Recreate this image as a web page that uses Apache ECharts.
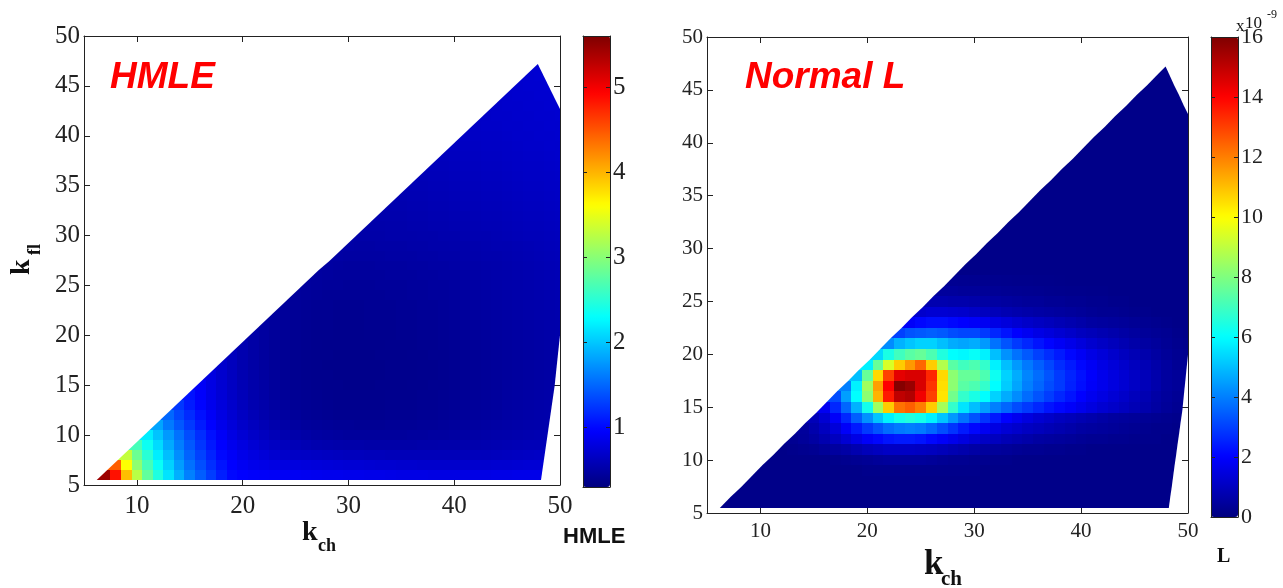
<!DOCTYPE html>
<html>
<head>
<meta charset="utf-8">
<title>HMLE and Normal L over k_ch, k_fl</title>
<script src="https://cdn.jsdelivr.net/npm/echarts@6.0.0/dist/echarts.min.js"></script>
<style>
  html, body { margin: 0; padding: 0; background: #fff; }
  #main { width: 1283px; height: 588px; }
</style>
</head>
<body>
<div id="main"></div>
<script>
// rows go up in k_fl, starting at kflFirst; a row starts at k_ch = k_fl + 1
const kflFirst = 6;
const kchTicks = [10, 20, 30, 40, 50];
const hmleTicks = [1, 2, 3, 4, 5];
const lTicks = [0, 2, 4, 6, 8, 10, 12, 14, 16];
const hmleRange = [0.3, 5.6];
const lRange = [0, 16];

const domainEdges = [
  [-1, 1, -0.7],      // diagonal k_fl = k_ch - 0.7
  [1, 0.465, 69.85],  // slope down from the apex at (47.9, 47.2)
  [1, -0.1, 48.0],    // right side, k_fl 15..20
  [1, -0.137, 47.45], // right side, k_fl 5.5..15
  [0, -1, -5.5]       // bottom at k_fl = 5.5
];

// HMLE
const hmleRows = [
  [5.45,4.85,3.95,3.25,2.8,2.45,2.15,1.88,1.63,1.45,1.28,1.12,1.0,0.96,0.94,0.93,0.92,0.91,0.9,0.89,0.88,0.87,0.87,0.86,0.86,0.85,0.85,0.84,0.83,0.83,0.83,0.82,0.82,0.82,0.82,0.83,0.83,0.84,0.84,0.85,0.85,0.85],
  [4.45,3.6,3.03,2.65,2.33,2.05,1.78,1.55,1.37,1.2,1.06,0.96,0.9,0.86,0.84,0.82,0.8,0.79,0.78,0.77,0.76,0.75,0.74,0.74,0.73,0.72,0.72,0.71,0.71,0.7,0.7,0.7,0.7,0.7,0.71,0.71,0.72,0.72,0.73,0.74,0.74],
  [3.3,2.85,2.5,2.2,1.95,1.7,1.48,1.3,1.14,1.0,0.92,0.85,0.8,0.76,0.72,0.69,0.67,0.66,0.65,0.64,0.63,0.62,0.62,0.61,0.61,0.6,0.6,0.6,0.6,0.6,0.6,0.6,0.6,0.61,0.61,0.62,0.63,0.64,0.65,0.66],
  [2.65,2.35,2.1,1.85,1.62,1.42,1.24,1.08,0.96,0.87,0.8,0.74,0.69,0.65,0.62,0.59,0.57,0.55,0.54,0.53,0.52,0.52,0.51,0.51,0.51,0.51,0.51,0.52,0.52,0.53,0.53,0.54,0.54,0.55,0.56,0.57,0.58,0.59,0.59],
  [2.2,1.98,1.76,1.55,1.36,1.19,1.04,0.92,0.82,0.74,0.68,0.63,0.59,0.55,0.52,0.5,0.48,0.47,0.46,0.45,0.45,0.45,0.45,0.45,0.45,0.46,0.46,0.47,0.47,0.48,0.49,0.5,0.51,0.52,0.53,0.54,0.55,0.56,0.57],
  [1.82,1.6,1.42,1.26,1.1,0.97,0.86,0.77,0.69,0.63,0.58,0.54,0.5,0.47,0.45,0.44,0.43,0.42,0.42,0.41,0.41,0.41,0.42,0.42,0.42,0.43,0.43,0.44,0.45,0.46,0.47,0.48,0.49,0.5,0.51,0.52,0.53,0.54],
  [1.5,1.33,1.18,1.04,0.92,0.82,0.73,0.65,0.59,0.54,0.5,0.47,0.44,0.42,0.41,0.4,0.39,0.39,0.39,0.39,0.39,0.4,0.4,0.4,0.41,0.41,0.42,0.43,0.44,0.45,0.46,0.47,0.49,0.5,0.51,0.52,0.53],
  [1.25,1.1,0.98,0.87,0.78,0.7,0.62,0.56,0.52,0.48,0.45,0.42,0.41,0.4,0.39,0.38,0.38,0.38,0.38,0.38,0.39,0.39,0.39,0.4,0.4,0.41,0.42,0.43,0.44,0.45,0.46,0.48,0.49,0.5,0.51,0.52],
  [1.05,0.94,0.84,0.75,0.67,0.6,0.54,0.5,0.46,0.43,0.41,0.4,0.39,0.38,0.37,0.37,0.37,0.37,0.37,0.38,0.38,0.38,0.39,0.39,0.4,0.41,0.42,0.43,0.44,0.45,0.47,0.48,0.49,0.5,0.51],
  [0.92,0.82,0.73,0.65,0.58,0.53,0.49,0.45,0.42,0.4,0.39,0.38,0.37,0.37,0.36,0.36,0.36,0.37,0.37,0.37,0.38,0.38,0.39,0.39,0.4,0.41,0.42,0.43,0.44,0.46,0.47,0.48,0.49,0.5],
  [0.8,0.71,0.63,0.56,0.51,0.47,0.44,0.41,0.39,0.38,0.37,0.37,0.36,0.36,0.36,0.36,0.36,0.37,0.37,0.37,0.38,0.38,0.39,0.4,0.41,0.42,0.43,0.44,0.45,0.46,0.47,0.48,0.49],
  [0.7,0.62,0.55,0.5,0.46,0.43,0.41,0.39,0.38,0.37,0.36,0.36,0.36,0.36,0.36,0.36,0.37,0.37,0.37,0.38,0.38,0.39,0.4,0.41,0.42,0.43,0.44,0.45,0.46,0.47,0.48,0.49],
  [0.62,0.55,0.5,0.46,0.43,0.41,0.39,0.38,0.37,0.37,0.36,0.36,0.36,0.36,0.37,0.37,0.37,0.38,0.38,0.39,0.39,0.4,0.41,0.42,0.43,0.44,0.45,0.46,0.47,0.48,0.49],
  [0.56,0.5,0.46,0.43,0.41,0.4,0.39,0.38,0.37,0.37,0.37,0.37,0.37,0.37,0.38,0.38,0.38,0.39,0.39,0.4,0.41,0.42,0.43,0.44,0.45,0.46,0.47,0.48,0.49,0.5],
  [0.51,0.47,0.44,0.42,0.4,0.39,0.38,0.38,0.37,0.37,0.37,0.38,0.38,0.38,0.39,0.39,0.4,0.4,0.41,0.42,0.43,0.44,0.45,0.46,0.47,0.48,0.49,0.5,0.51,0.52],
  [0.48,0.45,0.43,0.41,0.4,0.39,0.39,0.38,0.38,0.38,0.39,0.39,0.39,0.4,0.4,0.41,0.41,0.42,0.43,0.44,0.45,0.46,0.47,0.48,0.49,0.5,0.51,0.52,0.53],
  [0.46,0.44,0.42,0.41,0.4,0.4,0.39,0.39,0.39,0.4,0.4,0.4,0.41,0.41,0.42,0.42,0.43,0.44,0.45,0.46,0.47,0.48,0.49,0.5,0.51,0.52,0.53,0.54],
  [0.45,0.43,0.42,0.41,0.41,0.4,0.4,0.4,0.41,0.41,0.41,0.42,0.42,0.43,0.43,0.44,0.45,0.46,0.47,0.48,0.49,0.5,0.51,0.52,0.53,0.54,0.55],
  [0.45,0.44,0.43,0.42,0.42,0.42,0.42,0.42,0.42,0.43,0.43,0.44,0.44,0.45,0.45,0.46,0.47,0.48,0.49,0.5,0.51,0.52,0.53,0.54,0.55,0.56],
  [0.46,0.45,0.44,0.44,0.43,0.43,0.43,0.44,0.44,0.44,0.45,0.45,0.46,0.46,0.47,0.48,0.49,0.5,0.51,0.52,0.53,0.54,0.55,0.56,0.57],
  [0.47,0.46,0.45,0.45,0.45,0.45,0.45,0.46,0.46,0.46,0.47,0.47,0.48,0.48,0.49,0.5,0.51,0.52,0.53,0.54,0.55,0.56,0.57,0.58],
  [0.48,0.47,0.46,0.46,0.46,0.47,0.47,0.47,0.48,0.48,0.49,0.49,0.5,0.51,0.51,0.52,0.53,0.54,0.55,0.56,0.57,0.58,0.59],
  [0.49,0.48,0.48,0.48,0.48,0.49,0.49,0.49,0.5,0.5,0.51,0.51,0.52,0.53,0.54,0.54,0.55,0.56,0.57,0.58,0.59,0.6],
  [0.5,0.49,0.49,0.5,0.5,0.5,0.51,0.51,0.52,0.52,0.53,0.53,0.54,0.55,0.56,0.56,0.57,0.58,0.59,0.6,0.61],
  [0.51,0.51,0.51,0.52,0.52,0.52,0.53,0.53,0.54,0.54,0.55,0.56,0.56,0.57,0.58,0.59,0.6,0.6,0.61,0.62],
  [0.52,0.52,0.53,0.53,0.54,0.54,0.55,0.55,0.56,0.56,0.57,0.58,0.58,0.59,0.6,0.61,0.61,0.62,0.63],
  [0.54,0.54,0.54,0.55,0.55,0.56,0.56,0.57,0.57,0.58,0.59,0.59,0.6,0.61,0.62,0.62,0.63,0.64],
  [0.55,0.55,0.56,0.56,0.57,0.57,0.58,0.59,0.59,0.6,0.6,0.61,0.62,0.63,0.63,0.64,0.65],
  [0.56,0.57,0.57,0.58,0.58,0.59,0.6,0.6,0.61,0.61,0.62,0.63,0.64,0.64,0.65,0.66],
  [0.58,0.58,0.59,0.59,0.6,0.61,0.61,0.62,0.62,0.63,0.64,0.65,0.65,0.66,0.67],
  [0.59,0.6,0.6,0.61,0.62,0.62,0.63,0.63,0.64,0.65,0.66,0.66,0.67,0.68],
  [0.61,0.61,0.62,0.63,0.63,0.64,0.64,0.65,0.66,0.67,0.67,0.68,0.69],
  [0.62,0.63,0.64,0.64,0.65,0.65,0.66,0.67,0.68,0.68,0.69,0.7],
  [0.64,0.65,0.65,0.66,0.66,0.67,0.68,0.69,0.69,0.7,0.7],
  [0.66,0.66,0.67,0.67,0.68,0.69,0.69,0.7,0.7,0.71],
  [0.67,0.68,0.68,0.69,0.69,0.7,0.7,0.71,0.71],
  [0.68,0.69,0.69,0.7,0.7,0.71,0.71,0.72],
  [0.69,0.7,0.7,0.71,0.71,0.72,0.72],
  [0.7,0.71,0.71,0.72,0.72],
  [0.71,0.72,0.72,0.73],
  [0.72,0.73],
  [0.73]
];

// Normal L (x 10^-9)
const normalRows = [
  [0.15,0.15,0.15,0.15,0.15,0.15,0.15,0.15,0.15,0.15,0.15,0.15,0.15,0.15,0.15,0.15,0.15,0.15,0.15,0.15,0.15,0.15,0.15,0.15,0.15,0.15,0.15,0.15,0.15,0.15,0.15,0.15,0.15,0.15,0.15,0.15,0.15,0.15,0.15,0.15,0.15,0.15],
  [0.15,0.15,0.15,0.15,0.15,0.15,0.15,0.15,0.15,0.15,0.15,0.15,0.15,0.15,0.15,0.15,0.15,0.15,0.15,0.15,0.15,0.15,0.15,0.15,0.15,0.15,0.15,0.15,0.15,0.15,0.15,0.15,0.15,0.15,0.15,0.15,0.15,0.15,0.15,0.15,0.15],
  [0.15,0.15,0.15,0.15,0.15,0.15,0.15,0.15,0.15,0.15,0.15,0.15,0.15,0.15,0.15,0.15,0.15,0.15,0.15,0.15,0.15,0.15,0.15,0.15,0.15,0.15,0.15,0.15,0.15,0.15,0.15,0.15,0.15,0.15,0.15,0.15,0.15,0.15,0.15,0.15],
  [0.15,0.15,0.15,0.15,0.15,0.15,0.15,0.15,0.15,0.15,0.2,0.2,0.2,0.2,0.2,0.2,0.2,0.2,0.2,0.2,0.2,0.15,0.15,0.15,0.15,0.15,0.15,0.15,0.15,0.15,0.15,0.15,0.15,0.15,0.15,0.15,0.15,0.15,0.15],
  [0.15,0.15,0.15,0.15,0.15,0.15,0.2,0.25,0.3,0.35,0.4,0.45,0.45,0.45,0.45,0.4,0.35,0.3,0.3,0.25,0.25,0.2,0.2,0.15,0.15,0.15,0.15,0.15,0.15,0.15,0.15,0.15,0.15,0.15,0.15,0.15,0.15,0.15,0.15],
  [0.15,0.2,0.25,0.3,0.4,0.5,0.6,0.75,0.9,1.0,1.1,1.1,1.1,1.05,1.0,0.9,0.8,0.7,0.6,0.5,0.45,0.4,0.35,0.3,0.3,0.25,0.25,0.2,0.2,0.15,0.15,0.15,0.15,0.15,0.15,0.15,0.15,0.15],
  [0.3,0.4,0.55,0.75,1.0,1.3,1.6,1.9,2.1,2.3,2.4,2.4,2.3,2.1,1.9,1.7,1.5,1.3,1.1,1.0,0.85,0.75,0.65,0.55,0.5,0.45,0.4,0.35,0.3,0.3,0.25,0.25,0.2,0.2,0.2,0.15,0.15],
  [0.45,0.7,1.0,1.4,1.9,2.4,2.9,3.3,3.7,3.9,4.0,3.9,3.6,3.2,2.8,2.4,2.1,1.8,1.55,1.35,1.2,1.05,0.95,0.85,0.75,0.65,0.55,0.5,0.45,0.4,0.35,0.3,0.25,0.2,0.2,0.15],
  [0.9,1.3,1.9,2.6,3.5,4.3,5.1,5.8,6.3,6.5,6.3,5.8,5.1,4.4,3.8,3.3,2.8,2.4,2.0,1.75,1.5,1.3,1.15,1.0,0.9,0.8,0.7,0.6,0.5,0.45,0.4,0.35,0.3,0.25,0.2],
  [1.8,2.6,3.6,4.8,6.3,8.5,10.8,12.2,12.5,12.0,10.8,8.6,6.8,5.6,5.0,4.5,4.0,3.6,3.2,2.9,2.6,2.3,2.1,1.9,1.7,1.5,1.3,1.15,1.0,0.85,0.7,0.55,0.4,0.3],
  [3.2,4.5,6.0,8.2,11.2,13.6,15.0,15.2,14.2,13.0,10.4,7.8,6.8,6.4,6.0,5.3,4.7,4.2,3.7,3.3,2.95,2.6,2.3,2.0,1.75,1.55,1.35,1.15,0.95,0.8,0.6,0.45,0.35],
  [4.0,5.8,8.5,11.5,14.0,15.9,15.6,14.6,13.2,10.5,8.2,7.4,7.2,6.8,6.0,5.2,4.6,4.0,3.6,3.2,2.9,2.5,2.2,1.9,1.7,1.5,1.3,1.1,0.9,0.7,0.5,0.4],
  [5.0,7.6,10.6,13.0,14.4,14.6,14.6,13.4,10.6,8.2,7.6,7.6,7.2,6.2,5.3,4.7,4.1,3.7,3.3,2.9,2.55,2.25,1.95,1.7,1.5,1.3,1.1,0.9,0.7,0.5,0.4],
  [5.8,7.6,9.4,10.8,11.6,12.4,10.8,8.8,7.4,7.0,7.2,6.8,5.8,5.0,4.4,3.9,3.5,3.1,2.7,2.4,2.1,1.85,1.6,1.4,1.2,1.0,0.85,0.65,0.5,0.35],
  [5.4,6.4,7.0,7.4,7.6,7.2,6.5,6.0,5.9,6.1,5.8,5.0,4.3,3.8,3.4,3.0,2.7,2.4,2.1,1.85,1.6,1.4,1.2,1.0,0.85,0.7,0.55,0.4,0.3,0.25],
  [4.2,4.8,5.1,5.3,5.3,5.0,4.7,4.6,4.7,4.4,3.8,3.3,2.9,2.6,2.3,2.05,1.85,1.65,1.45,1.25,1.1,0.95,0.8,0.65,0.55,0.45,0.35,0.25,0.2],
  [3.0,3.3,3.4,3.5,3.4,3.2,3.1,3.1,2.9,2.6,2.3,2.0,1.8,1.6,1.45,1.3,1.15,1.0,0.9,0.8,0.7,0.6,0.5,0.4,0.35,0.3,0.2,0.15],
  [1.9,2.1,2.2,2.2,2.1,2.0,1.9,1.8,1.6,1.45,1.3,1.15,1.05,0.95,0.85,0.75,0.65,0.55,0.5,0.45,0.4,0.35,0.3,0.25,0.2,0.15,0.15],
  [1.2,1.3,1.3,1.25,1.2,1.1,1.0,0.9,0.8,0.72,0.66,0.6,0.55,0.5,0.45,0.4,0.35,0.3,0.3,0.25,0.2,0.2,0.15,0.15,0.15,0.15],
  [0.75,0.75,0.7,0.7,0.65,0.6,0.55,0.5,0.45,0.4,0.4,0.35,0.35,0.3,0.3,0.25,0.25,0.2,0.2,0.15,0.15,0.15,0.15,0.15,0.15],
  [0.45,0.45,0.4,0.4,0.38,0.35,0.32,0.3,0.28,0.26,0.24,0.22,0.2,0.2,0.18,0.18,0.16,0.15,0.15,0.15,0.15,0.15,0.15,0.15],
  [0.3,0.28,0.26,0.25,0.24,0.22,0.2,0.2,0.18,0.18,0.17,0.16,0.16,0.15,0.15,0.15,0.15,0.15,0.15,0.15,0.15,0.15,0.15],
  [0.15,0.15,0.15,0.15,0.15,0.15,0.15,0.15,0.15,0.15,0.15,0.15,0.15,0.15,0.15,0.15,0.15,0.15,0.15,0.15,0.15,0.15],
  [0.15,0.15,0.15,0.15,0.15,0.15,0.15,0.15,0.15,0.15,0.15,0.15,0.15,0.15,0.15,0.15,0.15,0.15,0.15,0.15,0.15],
  [0.15,0.15,0.15,0.15,0.15,0.15,0.15,0.15,0.15,0.15,0.15,0.15,0.15,0.15,0.15,0.15,0.15,0.15,0.15,0.15],
  [0.15,0.15,0.15,0.15,0.15,0.15,0.15,0.15,0.15,0.15,0.15,0.15,0.15,0.15,0.15,0.15,0.15,0.15,0.15],
  [0.15,0.15,0.15,0.15,0.15,0.15,0.15,0.15,0.15,0.15,0.15,0.15,0.15,0.15,0.15,0.15,0.15,0.15],
  [0.15,0.15,0.15,0.15,0.15,0.15,0.15,0.15,0.15,0.15,0.15,0.15,0.15,0.15,0.15,0.15,0.15],
  [0.15,0.15,0.15,0.15,0.15,0.15,0.15,0.15,0.15,0.15,0.15,0.15,0.15,0.15,0.15,0.15],
  [0.15,0.15,0.15,0.15,0.15,0.15,0.15,0.15,0.15,0.15,0.15,0.15,0.15,0.15,0.15],
  [0.15,0.15,0.15,0.15,0.15,0.15,0.15,0.15,0.15,0.15,0.15,0.15,0.15,0.15],
  [0.15,0.15,0.15,0.15,0.15,0.15,0.15,0.15,0.15,0.15,0.15,0.15,0.15],
  [0.15,0.15,0.15,0.15,0.15,0.15,0.15,0.15,0.15,0.15,0.15,0.15],
  [0.15,0.15,0.15,0.15,0.15,0.15,0.15,0.15,0.15,0.15,0.15],
  [0.15,0.15,0.15,0.15,0.15,0.15,0.15,0.15,0.15,0.15],
  [0.15,0.15,0.15,0.15,0.15,0.15,0.15,0.15,0.15],
  [0.15,0.15,0.15,0.15,0.15,0.15,0.15,0.15],
  [0.15,0.15,0.15,0.15,0.15,0.15,0.15],
  [0.15,0.15,0.15,0.15,0.15],
  [0.15,0.15,0.15,0.15],
  [0.15,0.15],
  [0.15]
];

const jet = ['#00007f', '#0000ff', '#007fff', '#00ffff', '#7fff7f', '#ffff00', '#ff7f00', '#ff0000', '#7f0000'];
const serif = 'Liberation Serif';
const ink = '#222';

// [k_ch, k_fl, value, first in row, last in row]
function toCells(rows) {
  const cells = [];
  rows.forEach(function (row, r) {
    const kfl = kflFirst + r;
    row.forEach(function (v, c) {
      cells.push([kfl + 1 + c, kfl, v, c === 0 ? 1 : 0, c === row.length - 1 ? 1 : 0]);
    });
  });
  return cells;
}

// cut a polygon (data units) by a*x + b*y <= c
function cut(poly, e) {
  const out = [];
  for (let i = 0; i < poly.length; i++) {
    const p = poly[i], q = poly[(i + 1) % poly.length];
    const fp = e[0] * p[0] + e[1] * p[1] - e[2];
    const fq = e[0] * q[0] + e[1] * q[1] - e[2];
    if (fp <= 0) out.push(p);
    if ((fp < 0 && fq > 0) || (fp > 0 && fq < 0)) {
      const t = fp / (fp - fq);
      out.push([p[0] + t * (q[0] - p[0]), p[1] + t * (q[1] - p[1])]);
    }
  }
  return out;
}

// true when v sits on a cell border (k + 0.5)
function onBorder(v) {
  return Math.abs(v - Math.floor(v) - 0.5) < 1e-9;
}

const lineStyle = { color: ink, width: 1 };

function plotX(gridIndex, position, fontSize, margin) {
  return {
    gridIndex: gridIndex, position: position, type: 'value', min: 5, max: 50,
    axisLine: { show: true, onZero: false, lineStyle: lineStyle },
    axisTick: { show: true, inside: true, length: 6, customValues: kchTicks, lineStyle: lineStyle },
    axisLabel: { show: position === 'bottom', customValues: kchTicks, margin: margin,
      fontFamily: serif, fontSize: fontSize, color: ink },
    splitLine: { show: false }
  };
}

function plotY(gridIndex, position, fontSize) {
  return {
    gridIndex: gridIndex, position: position, type: 'value', min: 5, max: 50, interval: 5,
    axisLine: { show: true, onZero: false, lineStyle: lineStyle },
    axisTick: { show: true, inside: true, length: 6, lineStyle: lineStyle },
    axisLabel: { show: position === 'left', margin: 4, fontFamily: serif, fontSize: fontSize, color: ink },
    splitLine: { show: false }
  };
}

function barX(gridIndex, position) {
  return {
    gridIndex: gridIndex, position: position, type: 'value', min: 0, max: 1, z: 10,
    axisLine: { show: true, onZero: false, lineStyle: lineStyle },
    axisTick: { show: false }, axisLabel: { show: false }, splitLine: { show: false }
  };
}

function barY(gridIndex, position, range, ticks, fontSize) {
  return {
    gridIndex: gridIndex, position: position, type: 'value', min: range[0], max: range[1], z: 10,
    axisLine: { show: true, onZero: false, lineStyle: lineStyle },
    axisTick: { show: true, inside: true, length: 4, customValues: ticks, lineStyle: lineStyle },
    axisLabel: { show: position === 'right', customValues: ticks, margin: 3,
      fontFamily: serif, fontSize: fontSize, color: ink },
    splitLine: { show: false }
  };
}

function cellSeries(axisIndex, rows) {
  return {
    type: 'custom', xAxisIndex: axisIndex, yAxisIndex: axisIndex,
    data: toCells(rows), clip: true, silent: true,
    encode: { x: 0, y: 1 },
    renderItem: function (params, api) {
      const kch = api.value(0), kfl = api.value(1);
      // edge cells reach out to the region border, then get cut by it
      const x0 = kch - 0.5 - (api.value(3) ? 1 : 0);
      const x1 = kch + 0.5 + (api.value(4) ? 1 : 0);
      let poly = [[x0, kfl - 0.5], [x1, kfl - 0.5], [x1, kfl + 0.5], [x0, kfl + 0.5]];
      domainEdges.forEach(function (e) { poly = cut(poly, e); });
      if (poly.length < 3) return null;
      // snap shared cell borders to whole pixels so neighbours meet without seams
      const pts = poly.map(function (p) {
        const c = api.coord(p);
        return [onBorder(p[0]) ? Math.round(c[0]) : c[0], onBorder(p[1]) ? Math.round(c[1]) : c[1]];
      });
      return { type: 'polygon', shape: { points: pts }, style: { fill: api.visual('color') } };
    }
  };
}

function label(x, y, text, style) {
  return {
    type: 'text', x: x, y: y, silent: true,
    style: Object.assign({ text: text, fill: '#111', fontFamily: serif, fontWeight: 'bold',
      textAlign: 'left', textVerticalAlign: 'middle' }, style)
  };
}

const titleStyle = { fontFamily: 'Liberation Sans', fontStyle: 'italic', fontWeight: 'bold', fontSize: 37, fill: '#f00' };

const chart = echarts.init(document.getElementById('main'));
chart.setOption({
  animation: false,
  backgroundColor: '#fff',
  grid: [
    { left: 84, top: 36, width: 476, height: 449 },
    { left: 583, top: 36, width: 27, height: 451 },
    { left: 707, top: 37, width: 481, height: 476 },
    { left: 1211, top: 37, width: 27, height: 480 }
  ],
  xAxis: [
    plotX(0, 'bottom', 25, 9), plotX(0, 'top', 25, 9),
    barX(1, 'bottom'), barX(1, 'top'),
    plotX(2, 'bottom', 21, 8), plotX(2, 'top', 21, 8),
    barX(3, 'bottom'), barX(3, 'top')
  ],
  yAxis: [
    plotY(0, 'left', 25), plotY(0, 'right', 25),
    barY(1, 'left', hmleRange, hmleTicks, 25), barY(1, 'right', hmleRange, hmleTicks, 25),
    plotY(2, 'left', 21), plotY(2, 'right', 21),
    barY(3, 'left', lRange, lTicks, 22), barY(3, 'right', lRange, lTicks, 22)
  ],
  visualMap: [
    { type: 'continuous', seriesIndex: 0, dimension: 2, min: hmleRange[0], max: hmleRange[1],
      calculable: false, hoverLink: false, padding: 0, itemWidth: 27, itemHeight: 451,
      left: 583, top: 36, inRange: { color: jet } },
    { type: 'continuous', seriesIndex: 1, dimension: 2, min: lRange[0], max: lRange[1],
      calculable: false, hoverLink: false, padding: 0, itemWidth: 27, itemHeight: 480,
      left: 1211, top: 37, inRange: { color: jet } }
  ],
  series: [cellSeries(0, hmleRows), cellSeries(4, normalRows)],
  graphic: [
    label(110, 78, 'HMLE', titleStyle),
    label(745, 78, 'Normal L', titleStyle),
    {
      type: 'group', x: 22, y: 275, rotation: Math.PI / 2, silent: true,
      children: [
        label(0, 0, 'k', { fontSize: 28 }),
        label(20, 13, 'fl', { fontSize: 18 })
      ]
    },
    label(302, 533, 'k', { fontSize: 28 }),
    label(318, 546, 'ch', { fontSize: 18 }),
    label(563, 537, 'HMLE', { fontFamily: 'Liberation Sans', fontSize: 22 }),
    label(924, 565, 'k', { fontSize: 35 }),
    label(941, 580, 'ch', { fontSize: 21 }),
    label(1217, 557, 'L', { fontSize: 20 }),
    label(1236, 27, 'x', { fontWeight: 'normal', fontSize: 17 }),
    label(1245, 24, '10', { fontWeight: 'normal', fontSize: 17 }),
    label(1267, 15, '-9', { fontWeight: 'normal', fontSize: 12 })
  ]
});
</script>
</body>
</html>
